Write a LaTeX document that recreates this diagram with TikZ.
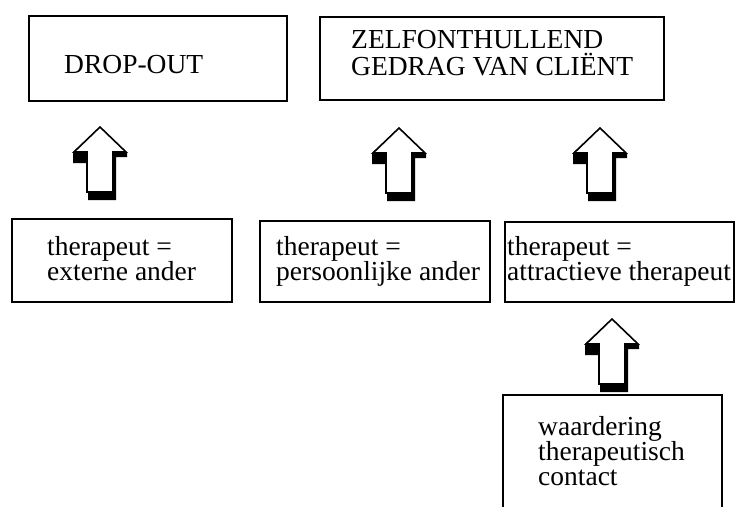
\documentclass[tikz,border=0pt]{standalone}
\usepackage{fontspec}
\setmainfont{Liberation Serif}
\lineskiplimit=-20pt
\newcommand\diafont[1]{\fontsize{27.5}{#1}\selectfont\lineskiplimit=-20pt\relax}
\begin{document}
\begin{tikzpicture}[x=1pt,y=-1pt,
  box/.style={draw=black, line width=1.8pt, rectangle, inner sep=0pt},
  txt/.style={inner sep=0pt, align=left, font=\diafont{25}},
  blockarrow/.pic={
    \fill[black] (0,0) -- (27,26) -- (27,30) -- (16,30) -- (16,73) -- (-12,73) -- (-12,36) -- (-27,36) -- (-27,25) -- cycle;
    \draw[fill=white, line width=1.6pt, line join=miter]
      (0,0) -- (26,25) -- (13,25) -- (13,65) -- (-13,65) -- (-13,25) -- (-26,25) -- cycle;
  }]
\useasboundingbox (0,0) rectangle (736,506);
\clip (0,0) rectangle (736,506);
\fill[white] (0,0) rectangle (736,506);

% top boxes
\node[box, minimum width=258pt, minimum height=85pt] (dropout) at (158,58.5) {};
\node[box, minimum width=344pt, minimum height=83pt] (zelf) at (492,58.5) {};
\node[txt, anchor=base west] (tdrop) at (64,73) {DROP-OUT};
\node[txt, anchor=north west, font=\diafont{27}] (tzelf) at (351,30) {ZELFONTHULLEND\\GEDRAG VAN CLIËNT};

% lower boxes
\node[box, minimum width=220pt, minimum height=83pt] (extern) at (122,260.5) {};
\node[box, minimum width=230pt, minimum height=81pt] (persoon) at (375,261.5) {};
\node[box, minimum width=229pt, minimum height=80pt] (attract) at (619.5,262) {};
\node[box, minimum width=219pt, minimum height=130pt] (waard) at (612.5,460) {};

\node[txt, anchor=north west] (textern) at (47,236.6) {therapeut =\\externe ander};
\node[txt, anchor=north west] (tpersoon) at (276,236.6) {therapeut =\\persoonlijke ander};
\node[txt, anchor=north west] (tattract) at (507,236.6) {therapeut =\\attractieve therapeut};
\node[txt, anchor=north west, font=\diafont{25}] (twaard) at (538,416) {waardering\\therapeutisch\\contact};

% block arrows
\coordinate (a1) at (100,127);
\coordinate (a2) at (399,128);
\coordinate (a3) at (600,128);
\coordinate (a4) at (612,319);
\pic at (a1) {blockarrow};
\pic at (a2) {blockarrow};
\pic at (a3) {blockarrow};
\pic at (a4) {blockarrow};
\end{tikzpicture}
\end{document}
